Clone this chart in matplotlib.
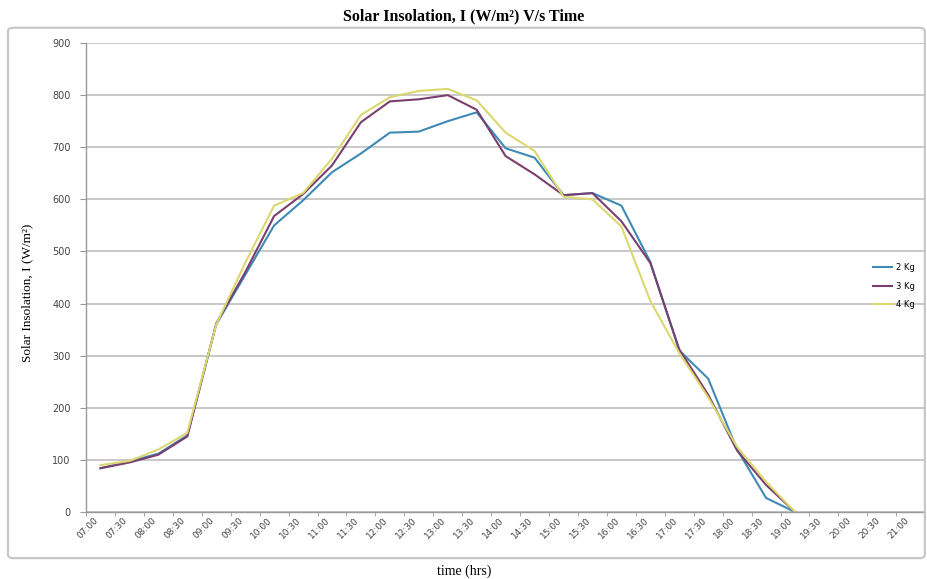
import numpy as np
import matplotlib
matplotlib.use('Agg')
import matplotlib.pyplot as plt
from matplotlib.patches import FancyBboxPatch

times = ['07:00', '07:30', '08:00', '08:30', '09:00', '09:30', '10:00', '10:30',
         '11:00', '11:30', '12:00', '12:30', '13:00', '13:30', '14:00', '14:30',
         '15:00', '15:30', '16:00', '16:30', '17:00', '17:30', '18:00', '18:30',
         '19:00', '19:30', '20:00', '20:30', '21:00']

nan = np.nan
kg2 = [84, 97, 112, 147, 360, 455, 550, 598, 652, 688, 728, 730, 750, 767,
       698, 680, 608, 612, 588, 480, 310, 256, 120, 27, 0, nan, nan, nan, nan]
kg3 = [84, 95, 110, 145, 362, 460, 568, 610, 665, 748, 788, 792, 800, 772,
       683, 648, 608, 612, 558, 478, 312, 225, 118, 52, 0, nan, nan, nan, nan]
kg4 = [90, 98, 120, 152, 360, 478, 588, 612, 678, 762, 796, 808, 812, 790,
       728, 693, 605, 600, 548, 405, 305, 220, 125, 58, 0, nan, nan, nan, nan]

plt.rcParams['font.family'] = ['Liberation Serif', 'DejaVu Serif']

fig = plt.figure(figsize=(9.28, 5.79), dpi=100)
ax = fig.add_axes([0.0927, 0.1157, 0.9043, 0.81])

# outer chart frame
frame = FancyBboxPatch((0.0086, 0.036), 0.988, 0.916,
                       boxstyle='round,pad=0,rounding_size=0.006',
                       transform=fig.transFigure, fill=False,
                       edgecolor='#c8c8c8', linewidth=1.6, zorder=0)
fig.patches.append(frame)

x = np.arange(len(times))
ax.plot(x, kg2, color='#3f8ab5', lw=1.5, label='2 Kg')
ax.plot(x, kg3, color='#7a3f6e', lw=1.5, label='3 Kg')
ax.plot(x, kg4, color='#dcd870', lw=1.5, label='4 Kg')

ax.set_xlim(-0.5, len(times) - 0.5)
ax.set_ylim(0, 900)
ax.set_yticks(np.arange(0, 901, 100))
ax.set_xticks(x)
ax.set_xticklabels(times, rotation=45, ha='right', fontsize=6.5,
                   color='#444444', family='DejaVu Sans')
ax.set_xticks(np.arange(-0.5, len(times), 1), minor=True)
ax.tick_params(axis='x', which='major', length=0, pad=3)
ax.tick_params(axis='x', which='minor', length=3, color='#999999')
ax.tick_params(axis='y', length=4, color='#999999', labelsize=7,
               labelcolor='#444444', pad=7)
for t in ax.get_yticklabels():
    t.set_family('DejaVu Sans')

ax.grid(axis='y', color='#c4c4c4', lw=1.3)
ax.set_axisbelow(True)
for s in ['top', 'right']:
    ax.spines[s].set_visible(False)
for s in ['left', 'bottom']:
    ax.spines[s].set_color('#999999')
    ax.spines[s].set_linewidth(1.0)

ax.set_ylabel('Solar Insolation, I (W/m²)', fontsize=9.5)
ax.yaxis.set_label_coords(-0.063, 0.467)
fig.text(0.5, 0.971, 'Solar Insolation, I (W/m²) V/s Time', ha='center',
         va='center', fontsize=11.5, fontweight='bold')
fig.text(0.5, 0.013, 'time (hrs)', ha='center', va='center', fontsize=10)

ax.legend(loc='center left', bbox_to_anchor=(0.9375, 0.506),
          bbox_transform=fig.transFigure, frameon=False,
          prop={'family': 'DejaVu Sans', 'size': 6},
          handlelength=2.3, labelspacing=1.1, handletextpad=0.4,
          borderaxespad=0)

fig.savefig('out.png', dpi=100)
